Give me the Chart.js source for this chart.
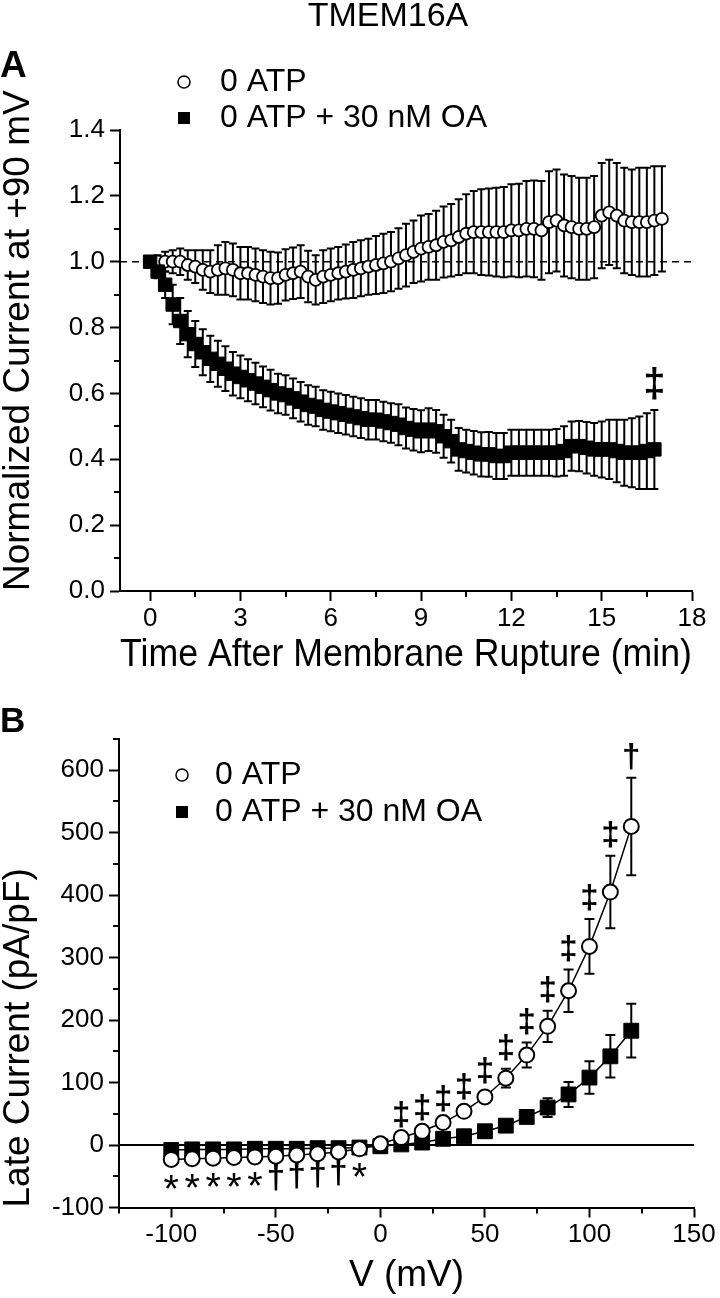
<!DOCTYPE html>
<html>
<head>
<meta charset="utf-8">
<script src="https://cdn.jsdelivr.net/npm/chart.js@4.4.1/dist/chart.umd.min.js"></script>
<style>
  html, body { margin: 0; padding: 0; background: #fff; }
  #wrap { position: relative; width: 720px; height: 1298px; }
  canvas { position: absolute; left: 0; }
  #chartA { top: 0; }
  #chartB { top: 690px; }
</style>
</head>
<body>
<div id="wrap">
  <canvas id="chartA" width="720" height="690"></canvas>
  <canvas id="chartB" width="720" height="608"></canvas>
</div>
<script>
const FONT = "'Liberation Sans', Arial, Helvetica, sans-serif";
Chart.defaults.font.family = FONT;
Chart.defaults.color = "#000";

const seriesNames = ["0 ATP", "0 ATP + 30 nM OA"];

// ---- panel A: normalized current at +90 mV ----
const timeMin = [
  0, 0.25, 0.5, 0.75, 1, 1.25, 1.5, 1.75, 2, 2.25, 2.5, 2.75, 3, 3.25, 3.5, 3.75,
  4, 4.25, 4.5, 4.75, 5, 5.25, 5.5, 5.75, 6, 6.25, 6.5, 6.75, 7, 7.25, 7.5, 7.75,
  8, 8.25, 8.5, 8.75, 9, 9.25, 9.5, 9.75, 10, 10.25, 10.5, 10.75, 11, 11.25, 11.5, 11.75,
  12, 12.25, 12.5, 12.75, 13, 13.25, 13.5, 13.75, 14, 14.25, 14.5, 14.75, 15, 15.25, 15.5, 15.75,
  16, 16.25, 16.5, 16.75, 17
];
const ctrlMeanA = [
  1.00, 1.00, 1.00, 1.00, 1.00, 0.99, 0.985, 0.975, 0.97, 0.975, 0.98, 0.975, 0.965, 0.965, 0.96, 0.955,
  0.95, 0.95, 0.96, 0.965, 0.97, 0.955, 0.945, 0.955, 0.96, 0.965, 0.97, 0.975, 0.98, 0.985, 0.99, 0.995,
  1.00, 1.01, 1.02, 1.03, 1.04, 1.045, 1.05, 1.06, 1.065, 1.075, 1.085, 1.09, 1.09, 1.09, 1.09, 1.09,
  1.095, 1.095, 1.10, 1.10, 1.095, 1.12, 1.125, 1.11, 1.105, 1.10, 1.10, 1.105, 1.14, 1.15, 1.14, 1.125,
  1.12, 1.12, 1.12, 1.125, 1.13
];
const ctrlErrA = [
  0, 0.02, 0.03, 0.035, 0.04, 0.045, 0.05, 0.06, 0.065, 0.075, 0.08, 0.08, 0.08, 0.08, 0.08, 0.08,
  0.08, 0.078, 0.078, 0.078, 0.08, 0.078, 0.075, 0.08, 0.08, 0.08, 0.082, 0.085, 0.085, 0.085, 0.088, 0.09,
  0.09, 0.092, 0.095, 0.095, 0.1, 0.1, 0.105, 0.108, 0.11, 0.115, 0.12, 0.125, 0.13, 0.132, 0.135, 0.137,
  0.14, 0.142, 0.145, 0.147, 0.15, 0.155, 0.155, 0.155, 0.155, 0.155, 0.155, 0.155, 0.16, 0.16, 0.16, 0.16,
  0.16, 0.165, 0.165, 0.165, 0.16
];
const oaMeanA = [
  1.00, 0.97, 0.93, 0.87, 0.82, 0.78, 0.75, 0.725, 0.705, 0.69, 0.675, 0.66, 0.65, 0.64, 0.63, 0.62,
  0.61, 0.60, 0.595, 0.585, 0.575, 0.565, 0.56, 0.55, 0.545, 0.54, 0.535, 0.53, 0.525, 0.52, 0.52, 0.515,
  0.51, 0.505, 0.495, 0.49, 0.485, 0.49, 0.485, 0.47, 0.455, 0.43, 0.425, 0.42, 0.415, 0.415, 0.41, 0.41,
  0.42, 0.42, 0.42, 0.42, 0.42, 0.42, 0.42, 0.425, 0.44, 0.44, 0.435, 0.43, 0.43, 0.43, 0.425, 0.42,
  0.42, 0.42, 0.425, 0.43
];
const oaErrA = [
  0, 0.02, 0.04, 0.06, 0.07, 0.07, 0.07, 0.07, 0.07, 0.07, 0.068, 0.066, 0.065, 0.064, 0.063, 0.062,
  0.062, 0.06, 0.06, 0.06, 0.06, 0.06, 0.06, 0.06, 0.06, 0.06, 0.06, 0.06, 0.06, 0.06, 0.06, 0.06,
  0.06, 0.062, 0.062, 0.063, 0.064, 0.065, 0.065, 0.065, 0.065, 0.065, 0.065, 0.066, 0.067, 0.068, 0.07, 0.07,
  0.07, 0.07, 0.07, 0.07, 0.07, 0.07, 0.072, 0.075, 0.075, 0.076, 0.078, 0.08, 0.085, 0.09, 0.095, 0.1,
  0.105, 0.11, 0.115, 0.12
];
const xTicksA = [0, 3, 6, 9, 12, 15, 18];
const xMinorA = [1.5, 4.5, 7.5, 10.5, 13.5, 16.5];
const yTicksA = [0, 0.2, 0.4, 0.6, 0.8, 1.0, 1.2, 1.4];
const yMinorA = [0.1, 0.3, 0.5, 0.7, 0.9, 1.1, 1.3];
const baselineA = 1.0;

// ---- panel B: late current vs voltage ----
const voltage = [-100, -90, -80, -70, -60, -50, -40, -30, -20, -10, 0, 10, 20, 30, 40, 50, 60, 70, 80, 90, 100, 110, 120];
const ctrlB = [-23, -22, -21, -20, -19, -18, -16, -14, -11, -6, 2, 12, 22, 36, 54, 77, 107, 144, 190, 247, 318, 405, 510];
const ctrlErrB = [4, 4, 4, 4, 4, 4, 3, 3, 3, 2, 2, 3, 4, 5, 6, 8, 15, 20, 25, 34, 44, 58, 78];
const oaB = [-8, -7, -7, -7, -6, -6, -6, -5, -5, -4, -2, 1, 4, 10, 14, 22, 31, 45, 60, 81, 108, 142, 183];
const oaErrB = [2, 2, 2, 2, 2, 2, 2, 2, 2, 2, 1, 1, 2, 3, 3, 4, 5, 7, 15, 20, 26, 34, 43];
const sigB = ["*", "*", "*", "*", "*", "†", "†", "†", "†", "*", "", "‡", "‡", "‡", "‡", "‡", "‡", "‡", "‡", "‡", "‡", "‡", "†"];
const xTicksB = [-100, -50, 0, 50, 100, 150];
const xMinorB = [-125, -75, -25, 25, 75, 125];
const yTicksB = [-100, 0, 100, 200, 300, 400, 500, 600];
const yMinorB = [-50, 50, 150, 250, 350, 450, 550, 650];

const pts = (xs, ys) => ys.map((y, i) => ({ x: xs[i], y: y }));

// error bars, reference line, minor ticks, significance marks, legend and labels
const figurePlugin = {
  id: "figure",
  beforeDatasetsDraw(chart, args, o) {
    const { ctx, chartArea: ca } = chart;
    const xs = chart.scales.x, ys = chart.scales.y;
    ctx.save();
    if (o.refLine) {
      const y = ys.getPixelForValue(o.refLine.value);
      ctx.strokeStyle = "#000";
      ctx.lineWidth = o.refLine.width;
      ctx.setLineDash(o.refLine.dash || []);
      ctx.beginPath();
      ctx.moveTo(ca.left, y);
      ctx.lineTo(ca.right, y);
      ctx.stroke();
      ctx.setLineDash([]);
    }
    ctx.strokeStyle = "#000";
    ctx.lineWidth = o.errWidth;
    chart.data.datasets.forEach((ds) => {
      if (!ds.errors) return;
      ctx.beginPath();
      ds.data.forEach((p, i) => {
        const e = ds.errors[i];
        if (!e) return;
        const x = xs.getPixelForValue(p.x);
        const y1 = ys.getPixelForValue(p.y + e);
        const y2 = ys.getPixelForValue(p.y - e);
        ctx.moveTo(x, y1); ctx.lineTo(x, y2);
        ctx.moveTo(x - o.cap, y1); ctx.lineTo(x + o.cap, y1);
        ctx.moveTo(x - o.cap, y2); ctx.lineTo(x + o.cap, y2);
      });
      ctx.stroke();
    });
    ctx.restore();
  },
  afterDraw(chart, args, o) {
    const { ctx, chartArea: ca } = chart;
    const xs = chart.scales.x, ys = chart.scales.y;
    ctx.save();
    // minor ticks
    ctx.strokeStyle = "#000";
    ctx.lineWidth = 2;
    ctx.beginPath();
    o.minorX.forEach((v) => {
      const x = Math.round(xs.getPixelForValue(v));
      ctx.moveTo(x, ca.bottom);
      ctx.lineTo(x, ca.bottom + o.minorLen);
    });
    o.minorY.forEach((v) => {
      const y = Math.round(ys.getPixelForValue(v));
      ctx.moveTo(ca.left, y);
      ctx.lineTo(ca.left - o.minorLen, y);
    });
    ctx.stroke();

    // significance marks
    ctx.fillStyle = "#000";
    ctx.textAlign = "center";
    ctx.textBaseline = "middle";
    chart.data.datasets.forEach((ds) => {
      if (!ds.marks) return;
      ds.data.forEach((p, i) => {
        const m = ds.marks[i];
        if (!m) return;
        const e = ds.errors ? ds.errors[i] : 0;
        const x = xs.getPixelForValue(p.x);
        let y = p.y >= 0 ? ys.getPixelForValue(p.y + e) - o.markGap : ys.getPixelForValue(p.y - e) + o.markGap;
        let font = "bold " + o.markSize + "px " + FONT;
        if (m === "*") {
          const size = o.markSize * 1.2;
          y += size * 0.22;
          font = size + "px " + FONT;
        }
        ctx.font = font;
        ctx.fillText(m, x, y);
      });
    });

    // legend
    const L = o.legend;
    chart.data.datasets.forEach((ds, k) => {
      const y = L.y + k * L.gap;
      ctx.lineWidth = 1.5;
      ctx.strokeStyle = "#000";
      if (ds.pointStyle === "circle") {
        ctx.fillStyle = "#fff";
        ctx.beginPath();
        ctx.arc(L.x, y, L.r, 0, Math.PI * 2);
        ctx.fill();
        ctx.stroke();
      } else {
        ctx.fillStyle = "#000";
        ctx.fillRect(L.x - L.r, y - L.r, 2 * L.r, 2 * L.r);
      }
      ctx.fillStyle = "#000";
      ctx.font = L.size + "px " + FONT;
      ctx.textAlign = "left";
      ctx.textBaseline = "middle";
      ctx.fillText(ds.label, L.textX, y);
    });

    // title and panel letters
    (o.texts || []).forEach((t) => {
      ctx.font = t.font;
      ctx.textAlign = t.align;
      ctx.textBaseline = "alphabetic";
      ctx.fillText(t.text, t.x, t.y);
    });
    ctx.restore();
  },
};

function axisConfig(o) {
  return {
    type: "linear",
    position: o.position,
    min: o.min,
    max: o.max,
    border: { color: "#000", width: 2 },
    grid: { drawOnChartArea: false, drawTicks: true, tickLength: 10, tickWidth: 2, tickColor: "#000" },
    ticks: {
      autoSkip: false,
      maxRotation: 0,
      padding: o.pad,
      color: "#000",
      font: { size: 26 },
      callback: o.format || ((v) => String(v)),
    },
    title: {
      display: true,
      text: o.title,
      align: o.align || "center",
      color: "#000",
      font: { size: o.titleSize || 37, lineHeight: 1 },
      padding: 0,
    },
    afterBuildTicks: (s) => {
      s.ticks = o.ticks.map((v) => ({ value: v }));
    },
    afterFit: (s) => {
      if (o.position === "left") s.width = o.size;
      else s.height = o.size;
    },
  };
}

const chartA = new Chart(document.getElementById("chartA"), {
  type: "scatter",
  data: {
    datasets: [
      {
        label: seriesNames[0],
        data: pts(timeMin, ctrlMeanA),
        errors: ctrlErrA,
        pointStyle: "circle",
        pointRadius: 6,
        pointBackgroundColor: "#fff",
        pointBorderColor: "#000",
        pointBorderWidth: 1.8,
        showLine: false,
        order: 2,
      },
      {
        label: seriesNames[1],
        data: pts(timeMin, oaMeanA),
        errors: oaErrA,
        marks: oaMeanA.map((v, i) => (i === oaMeanA.length - 1 ? "‡" : "")),
        pointStyle: "rect",
        pointRadius: 9.5,
        pointBackgroundColor: "#000",
        pointBorderColor: "#000",
        pointBorderWidth: 1,
        showLine: false,
        order: 1,
      },
    ],
  },
  options: {
    responsive: false,
    animation: false,
    events: [],
    layout: { padding: { left: 0, right: 28, top: 130, bottom: 15.5 } },
    scales: {
      x: axisConfig({ position: "bottom", min: -1, max: 18, ticks: xTicksA, pad: 2, size: 83.5, titleSize: 38.5, title: "Time After Membrane Rupture (min)" }),
      y: axisConfig({ position: "left", min: 0, max: 1.4, ticks: yTicksA, pad: 5, size: 120, title: "Normalized Current at +90 mV", align: "start", format: (v) => v.toFixed(1) }),
    },
    plugins: {
      legend: { display: false },
      tooltip: { enabled: false },
      figure: {
        refLine: { value: baselineA, width: 1.5, dash: [7, 5] },
        errWidth: 2,
        cap: 4,
        minorX: xMinorA,
        minorY: yMinorA,
        minorLen: 6,
        markGap: 24,
        markSize: 40,
        legend: { x: 184, y: 82, gap: 36, r: 6, textX: 220, size: 32 },
        texts: [
          { text: "TMEM16A", x: 388, y: 26, font: "34px " + FONT, align: "center" },
          { text: "A", x: 0, y: 77, font: "bold 37px " + FONT, align: "left" },
        ],
      },
    },
  },
  plugins: [figurePlugin],
});

const chartB = new Chart(document.getElementById("chartB"), {
  type: "scatter",
  data: {
    datasets: [
      {
        label: seriesNames[0],
        data: pts(voltage, ctrlB),
        errors: ctrlErrB,
        marks: sigB,
        pointStyle: "circle",
        pointRadius: 7.5,
        pointBackgroundColor: "#fff",
        pointBorderColor: "#000",
        pointBorderWidth: 2,
        showLine: true,
        borderColor: "#000",
        borderWidth: 1.5,
        order: 1,
      },
      {
        label: seriesNames[1],
        data: pts(voltage, oaB),
        errors: oaErrB,
        pointStyle: "rect",
        pointRadius: 10.5,
        pointBackgroundColor: "#000",
        pointBorderColor: "#000",
        pointBorderWidth: 1,
        showLine: true,
        borderColor: "#000",
        borderWidth: 1.5,
        order: 2,
      },
    ],
  },
  options: {
    responsive: false,
    animation: false,
    events: [],
    layout: { padding: { left: 0, right: 26, top: 49, bottom: 3.5 } },
    scales: {
      x: axisConfig({ position: "bottom", min: -125, max: 150, ticks: xTicksB, pad: 2, size: 87, title: "V (mV)" }),
      y: axisConfig({ position: "left", min: -100, max: 650, ticks: yTicksB, pad: 5, size: 119, title: "Late Current (pA/pF)", align: "start" }),
    },
    plugins: {
      legend: { display: false },
      tooltip: { enabled: false },
      figure: {
        refLine: { value: 0, width: 2 },
        errWidth: 2,
        cap: 5,
        minorX: xMinorB,
        minorY: yMinorB,
        minorLen: 6,
        markGap: 20,
        markSize: 33,
        legend: { x: 182, y: 85, gap: 37, r: 6, textX: 215, size: 32 },
        texts: [{ text: "B", x: 0, y: 42, font: "bold 35px " + FONT, align: "left" }],
      },
    },
  },
  plugins: [figurePlugin],
});
</script>
</body>
</html>
